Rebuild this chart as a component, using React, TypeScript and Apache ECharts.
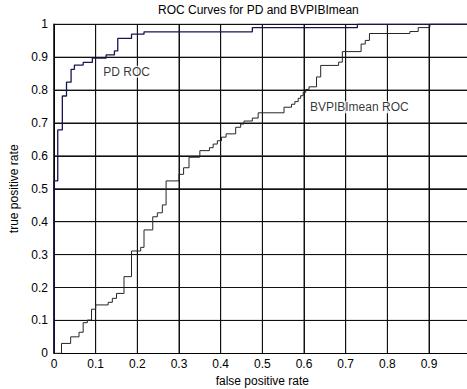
import React, { useEffect, useRef } from "react";
import * as echarts from "echarts";

const titleText = "ROC Curves for PD and BVPIBImean";
const xAxisName = "false positive rate";
const yAxisName = "true positive rate";

// Grid line positions (tick values)
const xGridTicks = [0.1, 0.2, 0.3, 0.4, 0.5, 0.6, 0.7, 0.8, 0.9];
const yGridTicks = [0.1, 0.2, 0.3, 0.4, 0.5, 0.6, 0.7, 0.8, 0.9, 1];

// PD ROC curve (staircase vertices)
const fprPD = [0, 0, 0.009, 0.02, 0.03, 0.041, 0.049, 0.07, 0.092, 0.125, 0.145, 0.153, 0.186, 0.216, 0.476, 0.728, 1];
const tprPD = [0, 0.524, 0.679, 0.782, 0.824, 0.863, 0.876, 0.884, 0.897, 0.907, 0.919, 0.957, 0.97, 0.977, 0.99, 1, 1];

// BVPIBImean ROC curve (staircase vertices)
const fprBV = [
  0, 0.018, 0.04, 0.06, 0.07, 0.08, 0.09, 0.1, 0.13, 0.14, 0.15, 0.168, 0.186, 0.208, 0.216, 0.237,
  0.248, 0.26, 0.269, 0.3, 0.311, 0.324, 0.35, 0.373, 0.382, 0.392, 0.402, 0.413, 0.436, 0.448,
  0.456, 0.476, 0.49, 0.552, 0.57, 0.578, 0.586, 0.592, 0.598, 0.604, 0.612, 0.63, 0.64, 0.683,
  0.692, 0.737, 0.747, 0.757, 0.854, 0.874, 0.902, 1,
];
const tprBV = [
  0, 0.03, 0.05, 0.064, 0.093, 0.101, 0.134, 0.147, 0.155, 0.167, 0.182, 0.233, 0.311, 0.322, 0.375, 0.415,
  0.427, 0.451, 0.524, 0.544, 0.564, 0.596, 0.616, 0.625, 0.636, 0.646, 0.657, 0.667, 0.687, 0.697,
  0.706, 0.715, 0.731, 0.748, 0.757, 0.765, 0.775, 0.783, 0.793, 0.802, 0.81, 0.84, 0.875, 0.885,
  0.917, 0.94, 0.951, 0.972, 0.978, 0.99, 1, 1,
];

// Curve annotations
const noteNames = ["PD ROC", "BVPIBImean ROC"];
const noteX = [0.117, 0.613];
const noteY = [0.856, 0.748];

const FONT = "'Liberation Sans', Arial, sans-serif";

export default function App() {
  const ref = useRef<HTMLDivElement>(null);

  useEffect(() => {
    if (!ref.current) return;
    const chart = echarts.init(ref.current, null, { renderer: "svg" });
    const pd = fprPD.map((x, i) => [x, tprPD[i]]);
    const bv = fprBV.map((x, i) => [x, tprBV[i]]);
    const notes = noteNames.map((n, i) => ({ value: [noteX[i], noteY[i]], name: n }));

    const gridLineStyle = { color: "#111", width: 1 };
    const gridSeries = [
      ...xGridTicks.map((v) => ({
        type: "line",
        data: [
          [v, 0],
          [v, 1],
        ],
        showSymbol: false,
        silent: true,
        clip: false,
        lineStyle: gridLineStyle,
        emphasis: { disabled: true },
        z: 1,
      })),
      ...yGridTicks.map((v) => ({
        type: "line",
        data: [
          [0, v],
          [1, v],
        ],
        showSymbol: false,
        silent: true,
        clip: false,
        lineStyle: gridLineStyle,
        emphasis: { disabled: true },
        z: 1,
      })),
    ];

    chart.setOption({
      animation: false,
      textStyle: { fontFamily: FONT },
      title: {
        text: titleText,
        left: 158,
        top: 4,
        padding: 0,
        textStyle: { fontSize: 12, fontWeight: "normal", color: "#000", fontFamily: FONT },
      },
      grid: {
        left: 54,
        top: 24.3,
        width: 416.7,
        height: 329,
        outerBoundsMode: "none",
        containLabel: false,
      },
      xAxis: {
        type: "value",
        min: 0,
        max: 1,
        interval: 0.1,
        name: xAxisName,
        nameLocation: "middle",
        nameGap: 20,
        nameTextStyle: { fontSize: 12, color: "#000", fontFamily: FONT },
        axisLine: { show: true, lineStyle: { color: "#000", width: 1 } },
        axisTick: { show: false },
        axisLabel: { fontSize: 12, color: "#000", fontFamily: FONT, margin: 5, showMaxLabel: false },
        splitLine: { show: true, lineStyle: { color: "#111" } },
      },
      yAxis: {
        type: "value",
        min: 0,
        max: 1,
        interval: 0.1,
        name: yAxisName,
        nameLocation: "middle",
        nameGap: 23,
        nameTextStyle: { fontSize: 12, color: "#000", fontFamily: FONT },
        axisLine: { show: true, lineStyle: { color: "#000", width: 1.5 } },
        axisTick: { show: false },
        axisLabel: { fontSize: 12, color: "#000", fontFamily: FONT, margin: 6 },
        splitLine: { show: true, lineStyle: { color: "#111" } },
      },
      series: [
        ...gridSeries,
        {
          type: "line",
          name: "BVPIBImean ROC",
          data: bv,
          step: "end",
          showSymbol: false,
          clip: false,
          lineStyle: { color: "#262626", width: 1 },
          z: 3,
        },
        {
          type: "line",
          name: "PD ROC",
          data: pd,
          step: "end",
          showSymbol: false,
          clip: false,
          lineStyle: { color: "#161650", width: 1.3 },
          z: 4,
        },
        {
          type: "scatter",
          data: notes,
          symbolSize: 1,
          itemStyle: { color: "rgba(0,0,0,0)" },
          z: 5,
          label: {
            show: true,
            position: "right",
            distance: 0,
            formatter: (p: any) => p.name,
            fontSize: 12,
            color: "#000",
            fontFamily: FONT,
            backgroundColor: "#fff",
          },
        },
      ],
    });
    return () => chart.dispose();
  }, []);

  return (
    <div
      ref={ref}
      style={{ position: "fixed", left: 0, top: 0, width: 467, height: 389, background: "#fff" }}
    />
  );
}
